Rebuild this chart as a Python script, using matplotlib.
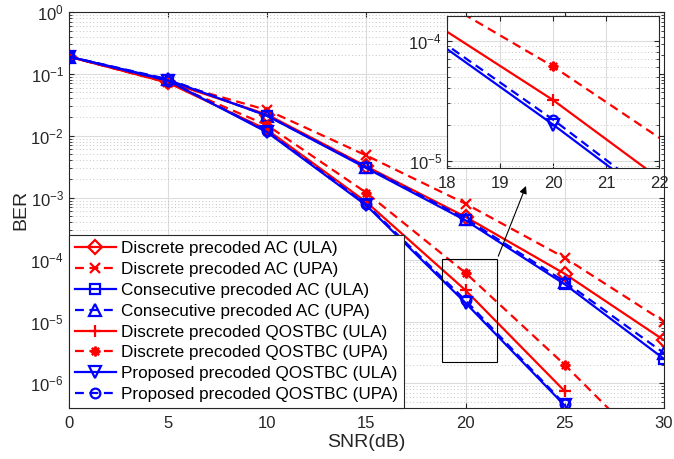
'''
BER versus SNR for the precoded AC / QOSTBC schemes, with zoomed inset
'''

import numpy as np
import matplotlib
matplotlib.use('Agg')
import matplotlib.pyplot as plt
from matplotlib.ticker import LogLocator, NullFormatter

plt.rcParams['font.family'] = ['Liberation Sans', 'DejaVu Sans']
plt.rcParams['mathtext.default'] = 'regular'

snr = [0, 5, 10, 15, 20, 25, 30]

ber_disc_ac_ula = [0.19, 0.074, 0.022, 0.0032, 4.9e-4, 5.9e-5, 5.0e-6]
ber_disc_ac_upa = [0.19, 0.074, 0.026, 0.0048, 8.0e-4, 1.07e-4, 1.0e-5]
ber_cons_ac_ula = [0.19, 0.080, 0.021, 0.0030, 4.3e-4, 4.0e-5, 2.5e-6]
ber_cons_ac_upa = [0.19, 0.082, 0.021, 0.0031, 4.6e-4, 4.4e-5, 3.1e-6]
ber_disc_qo_ula = [0.19, 0.072, 0.0125, 8.5e-4, 3.2e-5, 7.5e-7, np.nan]
ber_disc_qo_upa = [0.19, 0.072, 0.0148, 0.0012, 6.1e-5, 2.0e-6, 5.0e-8]
ber_prop_qo_ula = [0.19, 0.078, 0.0114, 7.5e-4, 2.0e-5, 4.4e-7, np.nan]
ber_prop_qo_upa = [0.19, 0.078, 0.0118, 7.8e-4, 2.2e-5, 4.6e-7, np.nan]

labels = ['Discrete precoded AC (ULA)', 'Discrete precoded AC (UPA)',
          'Consecutive precoded AC (ULA)', 'Consecutive precoded AC (UPA)',
          'Discrete precoded QOSTBC (ULA)', 'Discrete precoded QOSTBC (UPA)',
          'Proposed precoded QOSTBC (ULA)', 'Proposed precoded QOSTBC (UPA)']

RED = '#ff0000'
BLUE = '#0000ff'
series = [
    (ber_disc_ac_ula, RED, '-', 'D', 7),
    (ber_disc_ac_upa, RED, '--', 'x', 6.5),
    (ber_cons_ac_ula, BLUE, '-', 's', 7),
    (ber_cons_ac_upa, BLUE, '--', '^', 8),
    (ber_disc_qo_ula, RED, '-', '+', 9),
    (ber_disc_qo_upa, RED, '--', (8, 2, 0), 7),
    (ber_prop_qo_ula, BLUE, '-', 'v', 8),
    (ber_prop_qo_upa, BLUE, '--', 'o', 7),
]

FS = 12


def draw(ax):
    for (vals, col, ls, mk, ms), lab in zip(series, labels):
        ax.semilogy(snr, vals, color=col, linestyle=ls, marker=mk,
                    markersize=ms, markerfacecolor='none', markeredgecolor=col,
                    markeredgewidth=1.6, linewidth=1.6, label=lab,
                    dashes=(4, 2.5) if ls == '--' else (None, None))


def style(ax):
    ax.set_yscale('log')
    ax.grid(True, which='major', color='#dcdcdc', linewidth=0.8)
    ax.grid(True, which='minor', axis='y', color='#c4c4c4',
            linestyle=(0, (1, 2.5)), linewidth=0.7)
    ax.tick_params(which='both', direction='in', top=True, right=True,
                   labelsize=FS, color='#262626', labelcolor='#262626')
    ax.yaxis.set_minor_locator(LogLocator(base=10, subs=np.arange(2, 10),
                                          numticks=20))
    ax.yaxis.set_minor_formatter(NullFormatter())
    for sp in ax.spines.values():
        sp.set_color('#262626')
        sp.set_linewidth(0.8)
    ax.set_axisbelow(True)


fig = plt.figure(figsize=(6.74, 4.59), dpi=100)
ax = fig.add_axes([0.102, 0.111, 0.883, 0.863])
draw(ax)
style(ax)
ax.set_xlim(0, 30)
ax.set_ylim(4e-7, 1)
ax.set_xticks([0, 5, 10, 15, 20, 25, 30])
ax.set_yticks([1e-6, 1e-5, 1e-4, 1e-3, 1e-2, 1e-1, 1])
ax.tick_params(axis='x', pad=6)
ax.set_xlabel('SNR(dB)', fontsize=14, color='#262626', labelpad=2)
ax.set_ylabel('BER', fontsize=14, color='#262626', labelpad=1)

leg = ax.legend(loc='lower left', fontsize=12.3, borderaxespad=0,
                fancybox=False, framealpha=1, edgecolor='#262626',
                handlelength=2.4, handletextpad=0.3, labelspacing=0.34,
                borderpad=0.35)
leg.get_frame().set_linewidth(0.8)

# zoom rectangle and arrow to inset
ax.add_patch(plt.Rectangle((18.8, 2.2e-6), 2.8, 1.03e-4 - 2.2e-6,
                           fill=False, edgecolor='black', linewidth=0.8,
                           zorder=5))
ax.annotate('', xy=(23.1, 1.7e-3), xytext=(21.6, 1.03e-4),
            arrowprops=dict(arrowstyle='-|>', color='black', lw=0.8,
                            mutation_scale=11), zorder=5)

ins = fig.add_axes([0.663, 0.634, 0.315, 0.331])
draw(ins)
style(ins)
ins.set_xlim(18, 22)
ins.set_ylim(8.7e-6, 1.6e-4)
ins.set_xticks([18, 19, 20, 21, 22])
ins.set_yticks([1e-5, 1e-4])
ins.tick_params(axis='x', pad=6)

fig.savefig('out.png', dpi=100)
